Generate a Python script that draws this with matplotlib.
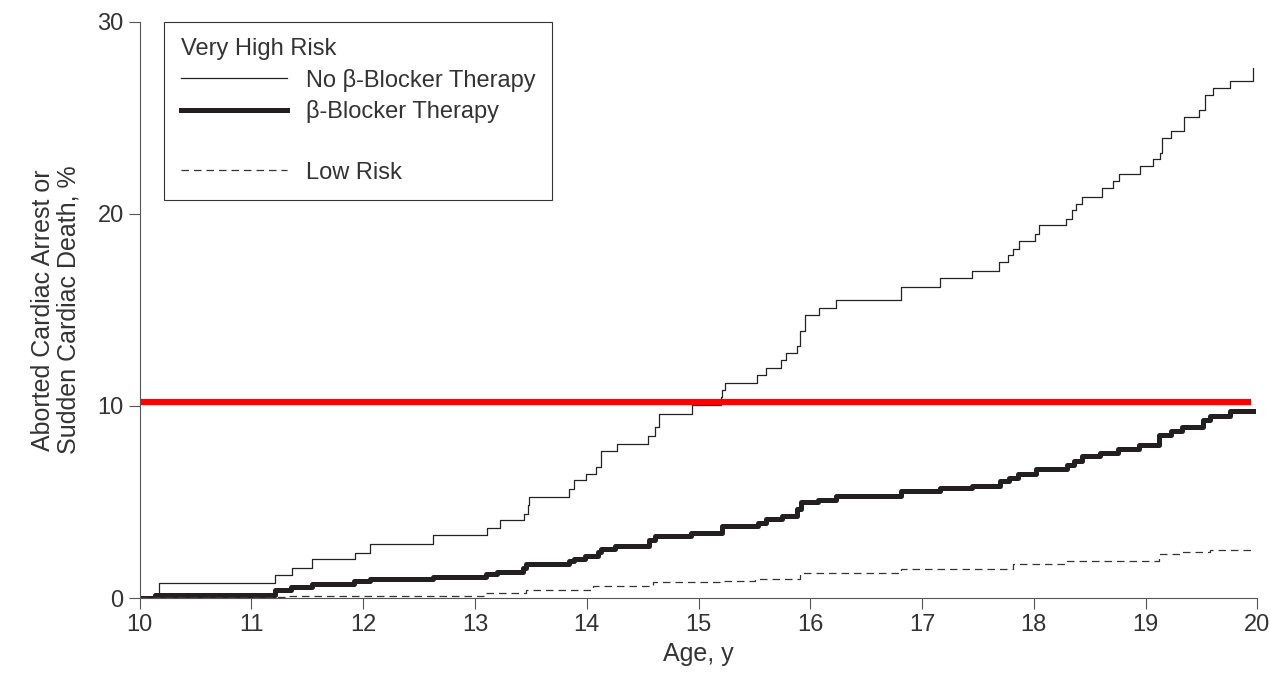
import matplotlib.pyplot as plt
from matplotlib.lines import Line2D

plt.rcParams["font.family"] = ["Liberation Sans", "DejaVu Sans"]

# No beta-blocker therapy (very high risk), step curve
no_bb_age = [10.0, 10.17, 11.21, 11.36, 11.54, 11.93, 12.06, 12.62, 13.11, 13.22,
             13.44, 13.47, 13.48, 13.84, 13.89, 13.99, 14.08, 14.13, 14.27, 14.55,
             14.61, 14.65, 14.94, 15.2, 15.21, 15.24, 15.52, 15.6, 15.74, 15.78,
             15.88, 15.91, 15.95, 16.08, 16.23, 16.81, 17.16, 17.45, 17.69, 17.77,
             17.81, 17.87, 18.01, 18.05, 18.29, 18.34, 18.38, 18.43, 18.61, 18.71,
             18.76, 18.95, 19.07, 19.13, 19.15, 19.23, 19.34, 19.48, 19.53, 19.6,
             19.76, 19.96, 19.96]
no_bb_pct = [0.0, 0.8, 1.19, 1.55, 2.02, 2.33, 2.79, 3.28, 3.62, 4.05,
             4.4, 4.83, 5.28, 5.67, 6.12, 6.47, 6.84, 7.64, 8.02, 8.45,
             8.88, 9.57, 10.05, 10.45, 10.84, 11.19, 11.6, 11.96, 12.39, 12.78,
             13.13, 13.91, 14.73, 15.08, 15.5, 16.19, 16.67, 17.02, 17.49, 17.84,
             18.17, 18.58, 18.95, 19.4, 19.75, 20.18, 20.53, 20.9, 21.34, 21.69,
             22.06, 22.51, 22.86, 23.19, 23.97, 24.32, 25.04, 25.43, 26.17, 26.56,
             26.93, 27.37, 27.6]

# Beta-blocker therapy (very high risk)
bb_age = [10.0, 10.14, 11.21, 11.35, 11.54, 11.92, 12.06, 12.62, 13.1, 13.2,
          13.43, 13.46, 13.84, 13.89, 13.98, 14.1, 14.13, 14.25, 14.56, 14.61,
          14.93, 15.21, 15.53, 15.6, 15.75, 15.88, 15.92, 16.07, 16.23, 16.81,
          17.16, 17.45, 17.7, 17.78, 17.86, 18.02, 18.3, 18.36, 18.43, 18.59,
          18.75, 18.94, 19.12, 19.23, 19.33, 19.51, 19.58, 19.76, 19.96]
bb_pct = [0.0, 0.15, 0.4, 0.57, 0.71, 0.86, 0.98, 1.07, 1.24, 1.36,
          1.55, 1.78, 1.91, 2.05, 2.19, 2.41, 2.57, 2.72, 3.02, 3.25,
          3.4, 3.74, 3.93, 4.09, 4.28, 4.61, 5.0, 5.1, 5.29, 5.58,
          5.74, 5.84, 6.07, 6.26, 6.46, 6.71, 6.95, 7.14, 7.37, 7.53,
          7.78, 7.96, 8.5, 8.7, 8.93, 9.28, 9.47, 9.73, 9.73]

# Low risk
low_age = [10.0, 11.31, 13.1, 13.46, 14.06, 14.59, 15.21, 15.51, 15.91, 16.81,
           17.81, 18.3, 19.12, 19.33, 19.58, 19.96]
low_pct = [0.05, 0.12, 0.26, 0.43, 0.6, 0.82, 0.91, 1.01, 1.3, 1.5,
           1.75, 1.95, 2.28, 2.37, 2.51, 2.51]

threshold_pct = 10.2
threshold_span = [10.0, 19.92]

fig = plt.figure(figsize=(12.7, 6.85), dpi=100)
ax = fig.add_axes([0.110, 0.127, 0.880, 0.841])

ax.plot(no_bb_age, no_bb_pct, drawstyle="steps-post", color="#222222", linewidth=0.9)
ax.plot(bb_age, bb_pct, drawstyle="steps-post", color="#231f20", linewidth=3.6)
ax.plot(low_age, low_pct, drawstyle="steps-post", color="#333333", linewidth=0.9,
        dashes=(6, 4))
ax.plot(threshold_span, [threshold_pct, threshold_pct], color="#ff0000", linewidth=4.5)

ax.set_xlim(10, 20)
ax.set_ylim(0, 30)
ax.set_xticks(range(10, 21))
ax.set_yticks([0, 10, 20, 30])
for s in ["top", "right"]:
    ax.spines[s].set_visible(False)
for s in ["left", "bottom"]:
    ax.spines[s].set_color("#555555")
ax.tick_params(direction="out", length=8, color="#555555", labelsize=17,
               labelcolor="#333333")
ax.set_xlabel("Age, y", fontsize=18, color="#333333")
ax.set_ylabel("Aborted Cardiac Arrest or\nSudden Cardiac Death, %", fontsize=18,
              color="#333333", linespacing=1.1, labelpad=12)

handles = [
    Line2D([], [], color="#222222", linewidth=0.9),
    Line2D([], [], color="#231f20", linewidth=3.6),
    Line2D([], [], color="none"),
    Line2D([], [], color="#333333", linewidth=0.9, dashes=(6, 4)),
]
labels = ["No β-Blocker Therapy", "β-Blocker Therapy", "", "Low Risk"]
leg = ax.legend(handles, labels, title="Very High Risk", loc="upper left",
                bbox_to_anchor=(0.022, 1.0), borderaxespad=0, fontsize=17,
                title_fontsize=17, frameon=True, fancybox=False,
                edgecolor="black", handlelength=4.5, labelspacing=0.35,
                borderpad=0.7)
leg.get_frame().set_linewidth(0.8)
leg._legend_box.align = "left"
for t in leg.get_texts():
    t.set_color("#333333")
leg.get_title().set_color("#333333")

fig.savefig("out.png", dpi=100)
